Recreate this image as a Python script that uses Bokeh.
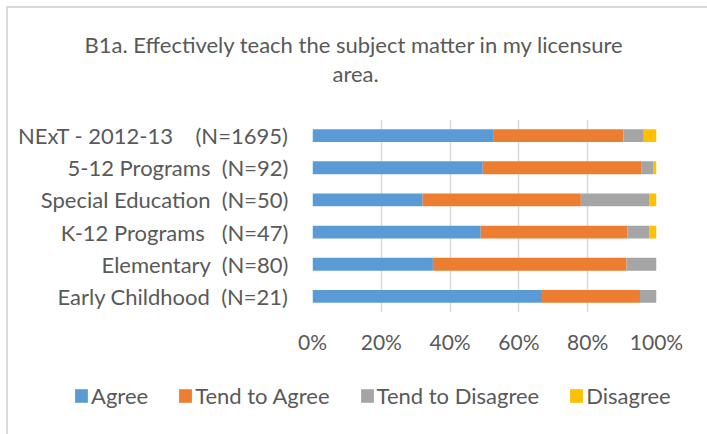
import re
from bokeh.plotting import figure
from bokeh.layouts import column
from bokeh.models import (FactorRange, Range1d, FixedTicker, Legend, LegendItem,
                          Title, ColumnDataSource)
from bokeh.embed import file_html
from bokeh.resources import INLINE

# ---- data ----
categories = ["NExT - 2012-13    (N=1695)", "5-12 Programs  (N=92)",
              "Special Education  (N=50)", "K-12 Programs   (N=47)",
              "Elementary  (N=80)", "Early Childhood  (N=21)"]
agree = [52.5, 49.5, 32.0, 48.9, 35.0, 66.7]
tend_agree = [37.9, 46.2, 46.0, 42.6, 56.3, 28.5]
tend_disagree = [5.9, 3.3, 20.0, 6.4, 8.7, 4.8]
disagree = [3.7, 1.0, 2.0, 2.1, 0.0, 0.0]
series = ["Agree", "Tend to Agree", "Tend to Disagree", "Disagree"]
colors = ["#5B9BD5", "#ED7D31", "#A5A5A5", "#FFC000"]
tick_values = [0, 20, 40, 60, 80, 100]
tick_labels = ["0%", "20%", "40%", "60%", "80%", "100%"]
title_lines = ["B1a. Effectively teach the subject matter in my licensure", "area."]

FONT = "Lato"
TXT = "#595959"
FS = "22px"

# keep runs of spaces visible in SVG text
factors = [re.sub(r" {2,}", lambda m: "\u00a0" * len(m.group()), c) for c in categories]

source = ColumnDataSource(dict(cat=factors, a=agree, ta=tend_agree,
                               td=tend_disagree, d=disagree))
keys = ["a", "ta", "td", "d"]

# ---------------- main chart ----------------
p = figure(width=699, height=362, output_backend="svg", toolbar_location=None,
           y_range=FactorRange(factors=factors[::-1]),
           x_range=Range1d(0, 100),
           min_border_left=304, min_border_right=51,
           min_border_top=111, min_border_bottom=58)
p.frame_align = False
p.outline_line_color = None
p.background_fill_color = "white"
p.border_fill_color = "white"

p.hbar_stack(keys, y="cat", height=0.4, color=colors, line_color=None, source=source)

p.xaxis.ticker = FixedTicker(ticks=tick_values)
p.xaxis.major_label_overrides = {v: l for v, l in zip(tick_values, tick_labels)}
for ax in (p.xaxis[0], p.yaxis[0]):
    ax.axis_line_color = None
    ax.major_tick_line_color = None
    ax.minor_tick_line_color = None
    ax.major_tick_out = 0
    ax.major_tick_in = 0
    ax.major_label_text_font = FONT
    ax.major_label_text_color = TXT
p.xaxis.major_label_text_font_size = "21px"
p.yaxis.major_label_text_font_size = FS
p.xaxis.major_label_standoff = 16
p.yaxis.major_label_standoff = 24

p.xgrid.grid_line_color = "#D9D9D9"
p.xgrid.grid_line_width = 1.5
p.ygrid.grid_line_color = None

# title: white spacer (closest to frame), then line 2, then line 1
p.add_layout(Title(text=".", text_font=FONT, text_font_size="24px",
                   text_color="white", standoff=13), "above")
p.add_layout(Title(text=title_lines[1], align="left", offset=20, standoff=0,
                   text_font=FONT, text_font_size=FS, text_color=TXT,
                   text_font_style="normal"), "above")
p.add_layout(Title(text=title_lines[0], align="left", offset=-228, standoff=0,
                   text_font=FONT, text_font_size=FS, text_color=TXT,
                   text_font_style="normal"), "above")

# ---------------- legend strip ----------------
lg = figure(width=699, height=64, output_backend="svg", toolbar_location=None,
            x_range=Range1d(-300, -200), y_range=FactorRange(factors=factors[::-1]),
            x_axis_location=None, y_axis_location=None,
            min_border_left=0, min_border_right=0, min_border_top=0, min_border_bottom=0)
lg.frame_align = False
lg.outline_line_color = None
lg.xgrid.visible = False
lg.ygrid.visible = False
lg.background_fill_color = "white"
lg.border_fill_color = "white"

# same series; the view range keeps the bars out of sight, only the legend shows
rs = lg.hbar_stack(keys, y="cat", height=0.4, color=colors, line_color=None, source=source)

legend = Legend(items=[LegendItem(label=s, renderers=[r]) for s, r in zip(series, rs)],
                orientation="horizontal", location=(65, 25),
                glyph_width=16, glyph_height=17, label_standoff=2, spacing=29,
                padding=0, margin=0, border_line_color=None,
                background_fill_alpha=0, label_text_font=FONT,
                label_text_font_size=FS, label_text_color=TXT)
lg.add_layout(legend, "center")

layout = column(p, lg, spacing=0, margin=(6, 0, 0, 6),
                styles={"border-left": "2px solid #D9D9D9",
                        "border-top": "2px solid #D9D9D9"})
open("out.html", "w").write(file_html(layout, INLINE))
